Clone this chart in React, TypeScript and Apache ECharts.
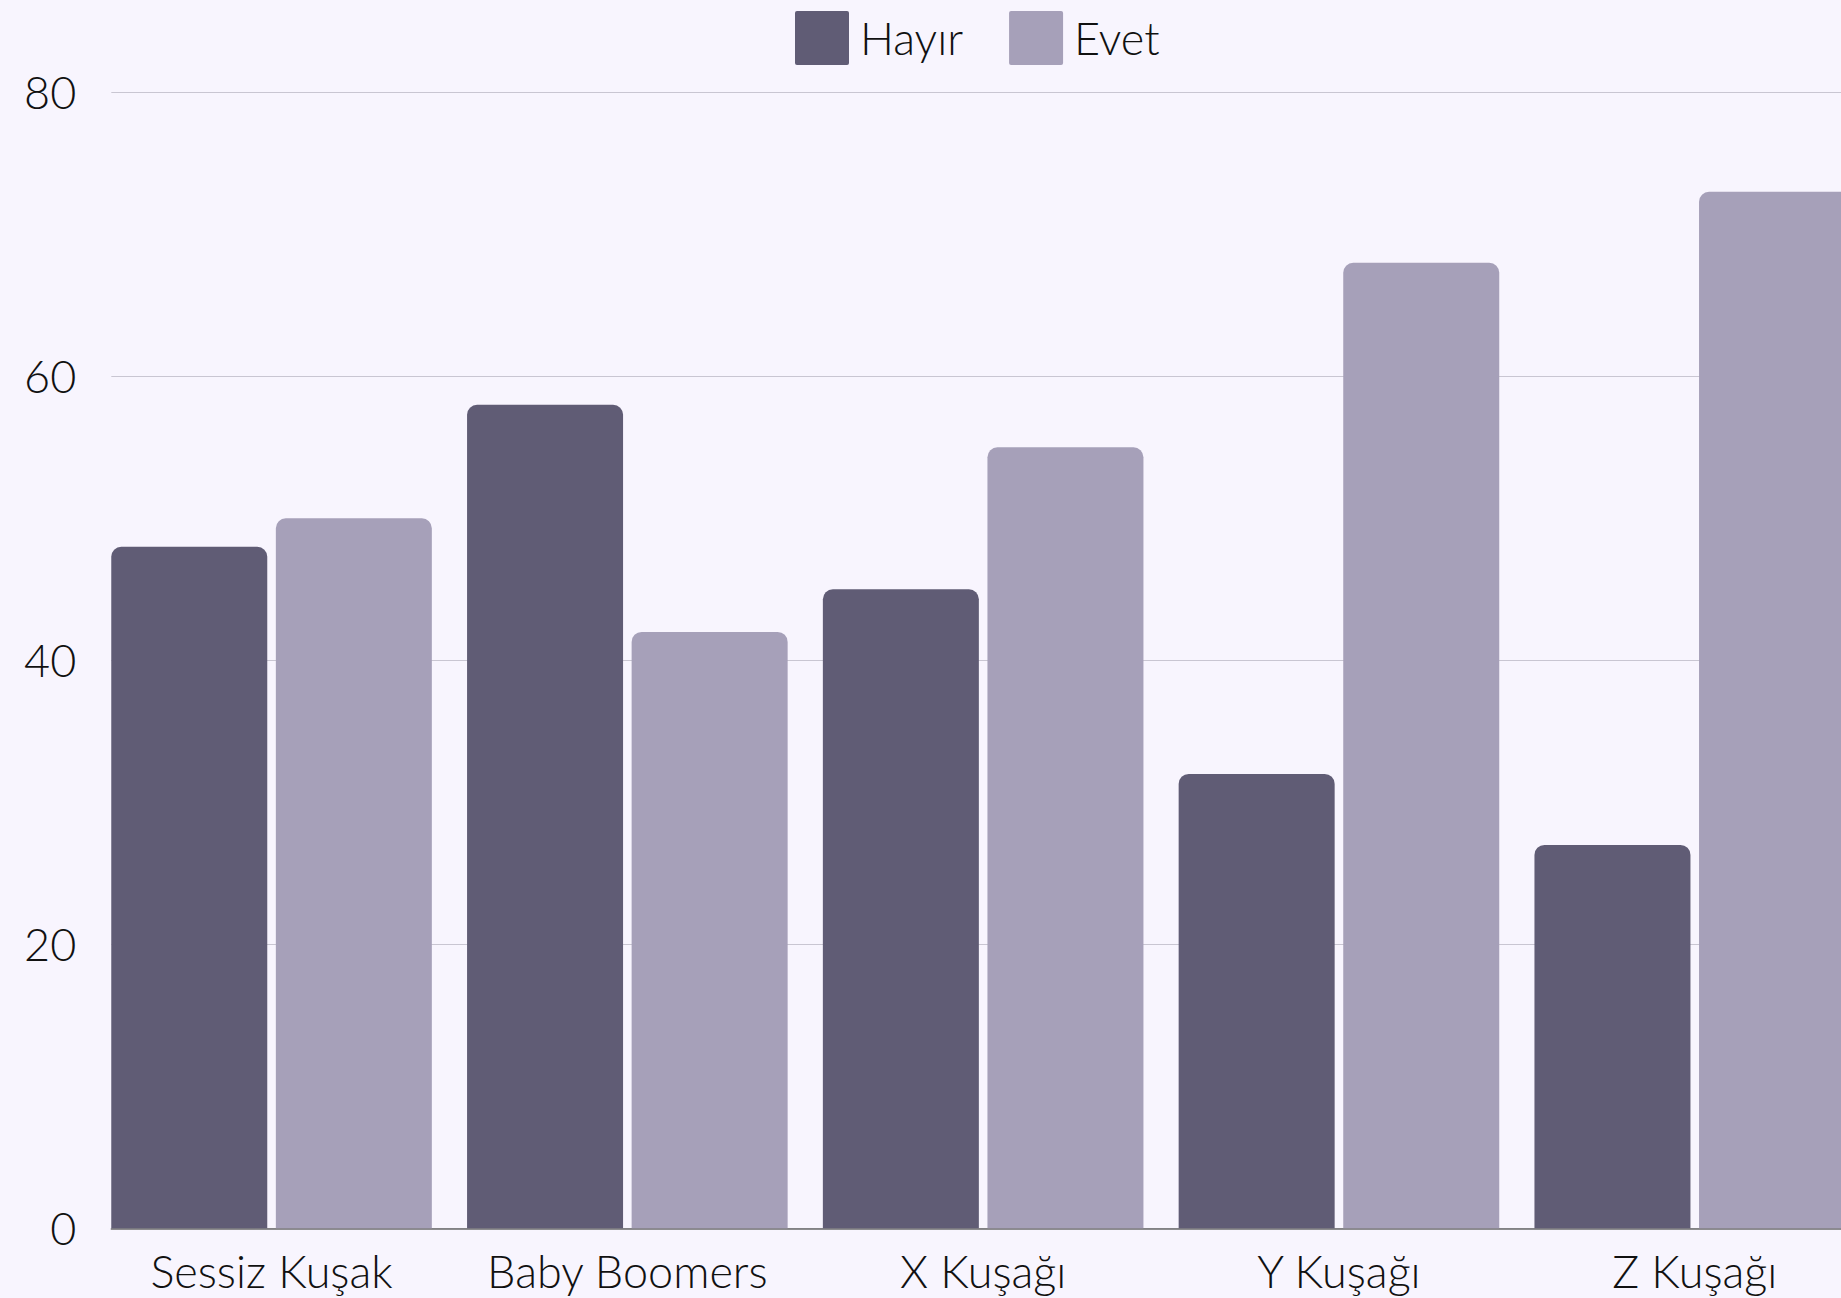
import React, { useEffect, useRef } from "react";
import * as echarts from "echarts";

const categories = ["Sessiz Kuşak", "Baby Boomers", "X Kuşağı", "Y Kuşağı", "Z Kuşağı"];
const hayir = [48, 58, 45, 32, 27];
const evet = [50, 42, 55, 68, 73];
const seriesNames = ["Hayır", "Evet"];
const yTicks = [0, 20, 40, 60, 80];

const FONT = "Lato, 'Noto Sans', sans-serif";
const C_HAYIR = "#605c75";
const C_EVET = "#a6a0b9";
const BG = "#f8f5fe";

export default function App() {
  const ref = useRef<HTMLDivElement>(null);
  useEffect(() => {
    if (!ref.current) return;
    const chart = echarts.init(ref.current, undefined, { renderer: "svg" });
    const yMax = yTicks[yTicks.length - 1];
    const step = yTicks[1] - yTicks[0];
    chart.setOption({
      animation: false,
      backgroundColor: BG,
      textStyle: { fontFamily: FONT },
      legend: {
        left: 790,
        top: 6,
        itemWidth: 54,
        itemHeight: 54,
        itemGap: 46,
        icon: "path://M2,0 L52,0 Q54,0 54,2 L54,52 Q54,54 52,54 L2,54 Q0,54 0,52 L0,2 Q0,0 2,0 Z",
        data: seriesNames,
        textStyle: { fontFamily: FONT, fontSize: 45, fontWeight: 300, color: "#111", padding: [0, 0, 0, 6] },
      },
      grid: [
        { left: 111.3, right: 7.35, top: 92.3, bottom: 69.7 },
        { left: 93.65, right: 7.35, top: 92.3, bottom: 69.7 },
      ],
      xAxis: [
        {
          type: "category",
          gridIndex: 0,
          data: categories,
          axisLine: { show: true, lineStyle: { color: "#6a6a6a", width: 1.5 } },
          axisTick: { show: false },
          axisLabel: { show: false },
          splitLine: { show: false },
        },
        {
          type: "category",
          gridIndex: 1,
          data: categories,
          axisLine: { show: false },
          axisTick: { show: false },
          axisLabel: {
            show: true,
            interval: 0,
            hideOverlap: false,
            margin: 20,
            fontFamily: FONT,
            fontSize: 45,
            fontWeight: 300,
            color: "#111",
          },
          splitLine: { show: false },
        },
      ],
      yAxis: [
        {
          type: "value",
          gridIndex: 0,
          min: 0,
          max: yMax,
          interval: step,
          axisLine: { show: false },
          axisTick: { show: false },
          axisLabel: { margin: 35, fontFamily: FONT, fontSize: 45, fontWeight: 300, color: "#111" },
          splitLine: { show: true, lineStyle: { color: "#c9c6d2", width: 1 } },
        },
        {
          type: "value",
          gridIndex: 1,
          min: 0,
          max: yMax,
          interval: step,
          show: false,
          splitLine: { show: false },
        },
      ],
      series: [
        {
          name: seriesNames[0],
          type: "bar",
          xAxisIndex: 1,
          yAxisIndex: 1,
          data: hayir,
          barWidth: 156,
          barGap: "5.5%",
          itemStyle: { color: C_HAYIR, borderRadius: [10, 10, 0, 0] },
        },
        {
          name: seriesNames[1],
          type: "bar",
          xAxisIndex: 1,
          yAxisIndex: 1,
          data: evet,
          barWidth: 156,
          barGap: "5.5%",
          itemStyle: { color: C_EVET, borderRadius: [10, 10, 0, 0] },
        },
      ],
    });
    return () => chart.dispose();
  }, []);
  return (
    <div
      style={{ position: "fixed", left: 0, top: 0, width: 1841, height: 1298, overflow: "hidden", background: BG }}
    >
      <div ref={ref} style={{ width: 1880, height: 1298 }} />
    </div>
  );
}
